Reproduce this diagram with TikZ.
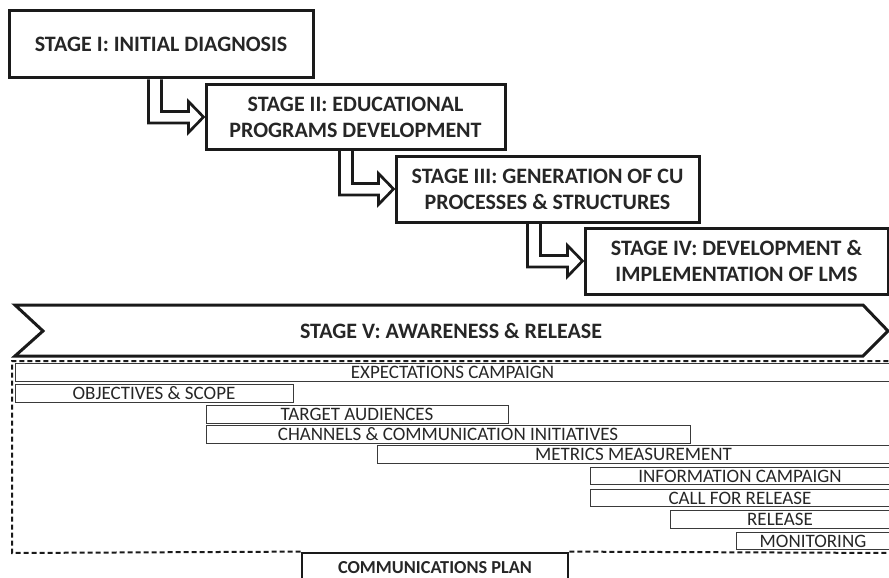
\documentclass[tikz,border=0pt]{standalone}
\usepackage{fontspec}
\setmainfont{Carlito}
\usetikzlibrary{calc}

\definecolor{ink}{HTML}{1A1A1A}
\definecolor{txt}{HTML}{262626}
\definecolor{barline}{HTML}{3A3A3A}

\tikzset{
  stagebox/.style={draw=ink, line width=3pt, rectangle, inner sep=0pt,
    align=center, text=txt, font=\bfseries\fontsize{22}{26}\selectfont},
  bentarr/.style={draw=ink, line width=2.7pt, line join=miter},
  barbox/.style={draw=barline, line width=1pt, rectangle, inner sep=0pt,
    minimum height=17.5pt, text=txt, font=\fontsize{19}{19}\selectfont,
    text height=12.2pt, text depth=0pt},
  dashline/.style={draw=ink, line width=2pt, dash pattern=on 5pt off 3pt},
  banner/.style={draw=ink, line width=3pt, line join=miter},
}

% hollow bent arrow: stem drops from the bottom of #1 (offset #3 from its
% left edge) and turns right into the west side of #2
\newcommand\stagearrow[3]{%
  \path[bentarr] let \p1=($(#1.south west)+(#3pt,0)$), \p2=(#2.west) in
    (\x1,\y1) -- (\x1,\y2-6pt) -- (\x2-16pt,\y2-6pt) -- (\x2-16pt,\y2-15.5pt)
    -- (\x2-1pt,\y2) -- (\x2-16pt,\y2+15.5pt) -- (\x2-16pt,\y2+5.5pt)
    -- (\x1+13pt,\y2+5.5pt) -- (\x1+13pt,\y1);}

\begin{document}
\begin{tikzpicture}[x=1pt,y=-1pt]
\useasboundingbox (0,0) rectangle (889,578);

% stages I-IV
\node[stagebox, minimum width=304pt, minimum height=67pt] (s1) at (161,44.5)
  {STAGE I: INITIAL DIAGNOSIS};
\node[stagebox, minimum width=299pt, minimum height=64pt] (s2) at (355.5,117)
  {STAGE II: EDUCATIONAL\\PROGRAMS DEVELOPMENT};
\node[stagebox, minimum width=303pt, minimum height=66pt] (s3) at (547.5,189)
  {STAGE III: GENERATION OF CU\\PROCESSES \& STRUCTURES};
\node[stagebox, minimum width=303pt, minimum height=66pt] (s4) at (736.5,261)
  {STAGE IV: DEVELOPMENT \&\\IMPLEMENTATION OF LMS};

\stagearrow{s1}{s2}{141}
\stagearrow{s2}{s3}{135}
\stagearrow{s3}{s4}{133}

% stage V banner
\draw[banner] (15,305) -- (863,305) -- (888,331) -- (863,356) -- (15,356)
  -- (43,331) -- cycle;
\node[text=txt, font=\bfseries\fontsize{22}{26}\selectfont] (s5) at (451,331)
  {STAGE V: AWARENESS \& RELEASE};

% communications plan frame
\node[draw=ink, line width=2.8pt, rectangle, inner sep=0pt,
  minimum width=266pt, minimum height=30pt, text=txt,
  font=\bfseries\fontsize{18.3}{18.3}\selectfont] (plan) at (435,568)
  {COMMUNICATIONS PLAN};
\draw[dashline] (plan.north west) -- (12,553) -- (12,361) -- (895,361);
\draw[dashline] (plan.north east) -- (895,553);

% activity bars
\node[barbox, minimum width=875pt] (b1) at (452.5,372.5) {EXPECTATIONS CAMPAIGN};
\node[barbox, minimum width=278pt] (b2) at (154,393.5) {OBJECTIVES \& SCOPE};
\node[barbox, minimum width=302pt] (b3) at (357,414.5) {TARGET AUDIENCES};
\node[barbox, minimum width=484pt] (b4) at (448,434.5) {CHANNELS \& COMMUNICATION INITIATIVES};
\node[barbox, minimum width=513pt] (b5) at (633.5,454.5) {METRICS MEASUREMENT};
\node[barbox, minimum width=300pt] (b6) at (740,476) {INFORMATION CAMPAIGN};
\node[barbox, minimum width=300pt] (b7) at (740,498) {CALL FOR RELEASE};
\node[barbox, minimum width=220pt] (b8) at (780,519.5) {RELEASE};
\node[barbox, minimum width=154pt] (b9) at (813,541) {MONITORING};
\end{tikzpicture}
\end{document}
